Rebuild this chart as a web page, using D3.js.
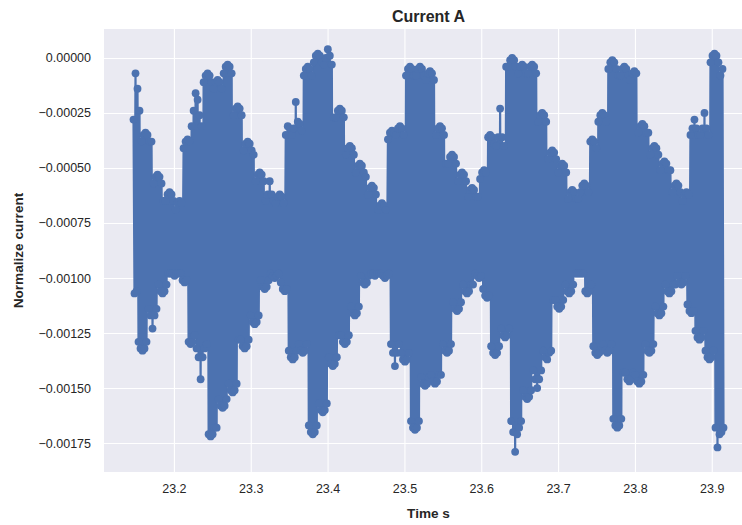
<!DOCTYPE html>
<html>
<head>
<meta charset="utf-8">
<script src="https://cdn.jsdelivr.net/npm/d3@7"></script>
<style>
  html, body { margin: 0; padding: 0; background: #ffffff; }
  svg { display: block; overflow: hidden; }
  text { font-family: "Liberation Sans", Arial, sans-serif; fill: #262626; }
</style>
</head>
<body>
<svg id="chart" width="742" height="525"></svg>
<script>
// Phase A current, normalized. Samples alternate between the high and the
// low excursion of each acquisition step; values are in units of 1e-5.
const startTime = 23.1474;        // s
const sampleInterval = 0.0013037; // s
const valueUnit = 1e-5;

const currentHigh = [
  -28,-7,-14,-24,
  -38,-35,-34,-35,-38,-38,
  -57,-54,-53,-54,-57,
  -65,-65,-62,-61,-62,-65,
  -69,-66,-65,-66,
  -41,-38,-37,-38,
  -31,-24,-16,-19,-26,-31,
  -11,-8,-7,-8,-11,
  -14,-11,-10,-11,-14,
  -7,-4,-3,-4,-7,
  -26,-23,-22,-23,-26,
  -42,-39,-38,-39,-42,-44,
  -56,-53,-52,-53,-56,
  -65,-62,-56,-62,-65,
  -66,-63,-62,-63,-66,
  -35,-31,-32,-35,
  -32,-20,-29,-30,-33,
  -8,-5,-4,-5,-8,
  -2,1,2,1,-2,
  -3,0,4,1,-3,
  -27,-27,-24,-23,-24,-27,
  -44,-41,-40,-41,-44,
  -52,-49,-48,-49,-52,-54,
  -62,-59,-58,-59,-62,
  -69,-67,-66,-67,-69,
  -37,-34,-33,-34,
  -35,-32,-31,-32,-35,
  -8,-5,-4,-5,-8,
  -8,-5,-4,-5,-8,
  -10,-7,-6,-7,-10,
  -35,-32,-31,-32,-35,
  -48,-48,-45,-44,-45,-48,
  -56,-53,-52,-53,-56,
  -63,-60,-59,-60,-63,-63,
  -55,-52,-51,-52,
  -36,-35,-36,-39,
  -40,-36,-23,-36,-40,
  -4,-4,-1,0,-1,-4,
  -7,-4,-3,-4,-7,
  -7,-4,-3,-4,-7,
  -29,-26,-25,-26,-29,
  -46,-43,-42,-43,-46,
  -52,-49,-48,-49,-52,
  -64,-61,-60,-61,-64,-64,
  -61,-58,-57,-58,-61,
  -38,-37,-38,-41,
  -29,-26,-25,-26,-29,
  -5,-2,-1,-2,-5,
  -8,-8,-5,-4,-5,-8,
  -10,-7,-6,-7,
  -34,-31,-30,-31,-34,-34,
  -44,-41,-40,-41,-44,
  -51,-48,-47,-48,-51,-51,
  -61,-58,-57,-58,-61,
  -65,-62,-61,-62,
  -35,-32,-28,-32,-35,
  -35,-32,-25,-32,-35,
  -2,1,2,1,-2,
  -8,-5
];

const currentLow = [
  -107,-106,
  -129,-132,-133,-132,-129,
  -114,-117,-123,-117,-114,
  -103,-106,-107,-106,-103,
  -98,-98,-98,-99,-98,-98,
  -98,-101,-102,-101,
  -129,-130,-129,-126,
  -132,-136,-146,-136,-132,-130,
  -171,-172,-171,-168,-168,
  -155,-158,-159,-158,-155,
  -148,-151,-152,-151,-148,
  -128,-128,-131,-132,-131,-128,
  -117,-120,-121,-120,-117,
  -101,-104,-105,-104,-101,
  -98,-99,-100,-99,-98,
  -102,-105,-106,-105,
  -133,-136,-137,-136,-133,
  -130,-133,-134,-133,-130,
  -167,-170,-171,-170,-167,
  -157,-160,-161,-160,-157,
  -136,-139,-140,-139,-136,
  -126,-126,-129,-130,-129,-126,
  -113,-116,-117,-116,-113,
  -99,-102,-103,-102,-99,
  -98,-98,-99,-98,-98,
  -98,-99,-100,-99,-98,
  -130,-134,-140,-134,-130,
  -134,-137,-138,-137,-134,
  -165,-168,-169,-168,-165,
  -145,-148,-149,-148,-145,
  -144,-147,-148,-147,-144,-144,
  -130,-133,-134,-133,-130,
  -111,-114,-115,-114,-111,
  -103,-106,-107,-106,-103,-103,
  -98,-99,-100,-99,
  -105,-108,-109,-108,
  -131,-134,-135,-134,-131,
  -123,-126,-127,-126,-123,
  -165,-170,-179,-171,-168,-165,
  -151,-154,-155,-154,-151,
  -142,-146,-150,-146,-142,
  -133,-136,-137,-134,-133,
  -110,-110,-113,-114,-113,-110,
  -103,-106,-107,-106,-103,
  -98,-98,-98,-98,-98,
  -106,-107,-106,-103,
  -131,-134,-135,-134,-131,
  -130,-133,-134,-133,-130,
  -164,-167,-168,-167,-164,
  -143,-143,-146,-147,-146,-143,
  -144,-147,-148,-147,-144,
  -130,-133,-134,-133,-130,
  -113,-116,-117,-116,-113,
  -103,-106,-107,-106,-103,-103,
  -99,-102,-103,-102,-99,
  -112,-115,-116,-115,
  -124,-127,-128,-127,-124,
  -133,-136,-137,-136,-133,
  -168,-177,-171,-170,-168
];

const xTicks = [23.2, 23.3, 23.4, 23.5, 23.6, 23.7, 23.8, 23.9];
const yTicks = [0, -0.00025, -0.0005, -0.00075, -0.001, -0.00125, -0.0015, -0.00175];

// Merge the two excursion lists back into acquisition order.
const series = [];
currentHigh.forEach((h, k) => {
  series.push(h);
  if (k < currentLow.length) series.push(currentLow[k]);
});
const data = series.map((v, i) => ({ t: startTime + i * sampleInterval, v: v * valueUnit }));

// Plot frame
const plot = { left: 104, top: 29, right: 753, bottom: 472 };
const svg = d3.select("#chart");

function padded(ext, frac) {
  const span = ext[1] - ext[0];
  return [ext[0] - span * frac, ext[1] + span * frac];
}

const x = d3.scaleLinear()
  .domain(padded(d3.extent(data, d => d.t), 0.05))
  .range([plot.left, plot.right]);
const y = d3.scaleLinear()
  .domain(padded(d3.extent(data, d => d.v), 0.05))
  .range([plot.bottom, plot.top]);

svg.append("rect")
  .attr("x", plot.left).attr("y", plot.top)
  .attr("width", plot.right - plot.left).attr("height", plot.bottom - plot.top)
  .attr("fill", "#EAEAF2");

const xAxis = svg.append("g")
  .attr("transform", `translate(0,${plot.bottom})`)
  .call(d3.axisBottom(x).tickValues(xTicks).tickFormat(d3.format(".1f"))
    .tickSizeInner(-(plot.bottom - plot.top)).tickSizeOuter(0).tickPadding(12.6));

const yAxis = svg.append("g")
  .attr("transform", `translate(${plot.left},0)`)
  .call(d3.axisLeft(y).tickValues(yTicks).tickFormat(d3.format(".5f"))
    .tickSizeInner(-(plot.right - plot.left)).tickSizeOuter(0).tickPadding(13));

[xAxis, yAxis].forEach(g => {
  g.select(".domain").remove();
  g.selectAll(".tick line").attr("stroke", "#ffffff").attr("stroke-width", 1.1);
  g.selectAll(".tick text")
    .attr("fill", "#262626")
    .style("font-family", '"Liberation Sans", Arial, sans-serif')
    .style("font-size", "12.5px");
});

// Signal: connected line with a marker at every sample
const blue = "#4C72B0";
svg.append("clipPath").attr("id", "plot-clip")
  .append("rect")
  .attr("x", plot.left).attr("y", plot.top)
  .attr("width", plot.right - plot.left).attr("height", plot.bottom - plot.top);

const layer = svg.append("g").attr("clip-path", "url(#plot-clip)");

layer.append("path")
  .datum(data)
  .attr("fill", "none")
  .attr("stroke", blue)
  .attr("stroke-width", 2.2)
  .attr("stroke-linejoin", "round")
  .attr("d", d3.line().x(d => x(d.t)).y(d => y(d.v)));

layer.append("g")
  .selectAll("circle")
  .data(data)
  .join("circle")
  .attr("cx", d => x(d.t))
  .attr("cy", d => y(d.v))
  .attr("r", 3.9)
  .attr("fill", blue);

// Titles
const midX = (plot.left + plot.right) / 2;
svg.append("text")
  .attr("x", midX).attr("y", 21.7)
  .attr("text-anchor", "middle")
  .style("font-size", "16px").style("font-weight", "bold")
  .text("Current A");

svg.append("text")
  .attr("x", midX).attr("y", 517.5)
  .attr("text-anchor", "middle")
  .style("font-size", "13.6px").style("font-weight", "bold")
  .text("Time s");

svg.append("text")
  .attr("transform", `translate(23.3,${(plot.top + plot.bottom) / 2}) rotate(-90)`)
  .attr("text-anchor", "middle")
  .style("font-size", "13.6px").style("font-weight", "bold")
  .text("Normalize current");
</script>
</body>
</html>
